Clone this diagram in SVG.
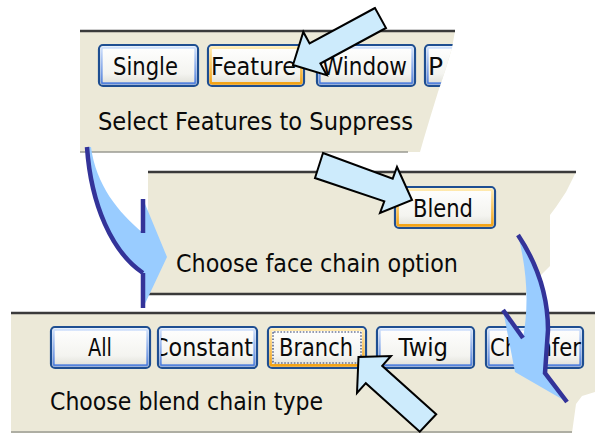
<svg xmlns="http://www.w3.org/2000/svg" width="595" height="433" viewBox="0 0 595 433">
  <defs>
    <style>
      .panel { fill: #ECE9D8; }
      .edge-dark { stroke: #3A3A3A; stroke-width: 2.5; fill: none; }
      .edge-light { stroke: #9A9A92; stroke-width: 1.5; fill: none; }
      .btn-outer { fill: url(#face); stroke: #1E4E91; stroke-width: 2.2; }
      .bevel-blue { fill: none; stroke: url(#bevelBlue); stroke-width: 2.2; }
      .bevel-orange { fill: none; stroke: url(#bevelOrange); stroke-width: 2.6; }
      .focus { fill: none; stroke: #2A3A6A; stroke-width: 1.2; stroke-dasharray: 1.6 1.6; }
      .label { font-family: "DejaVu Sans", "Noto Sans", sans-serif; font-size: 25px; fill: #0A0A0A; }
      .callout { fill: #CDEBFC; stroke: #000000; stroke-width: 2; stroke-linejoin: miter; }
      .bend-fill { fill: #99CCFF; stroke: none; }
      .bend-edge { fill: none; stroke: #333399; stroke-width: 4.5; stroke-linecap: butt; }
    </style>
    <linearGradient id="face" x1="0" y1="0" x2="0" y2="1">
      <stop offset="0" stop-color="#FFFFFF"/>
      <stop offset="0.7" stop-color="#F4F4F0"/>
      <stop offset="1" stop-color="#DCDCD4"/>
    </linearGradient>
    <linearGradient id="bevelBlue" x1="0" y1="0" x2="0" y2="1">
      <stop offset="0" stop-color="#CFE0FB"/>
      <stop offset="1" stop-color="#5583DD"/>
    </linearGradient>
    <linearGradient id="bevelOrange" x1="0" y1="0" x2="0" y2="1">
      <stop offset="0" stop-color="#FFEAB0"/>
      <stop offset="1" stop-color="#F2A317"/>
    </linearGradient>
    <clipPath id="clipPanel1">
      <path d="M80,31 L455,31 L452,48 L446,68 L438,92 L430,118 L424,138 L420,152 L80,152 Z"/>
    </clipPath>
    <clipPath id="clipConstant">
      <rect x="161" y="330" width="93" height="35"/>
    </clipPath>
  </defs>

  <rect width="595" height="433" fill="#FFFFFF"/>

  <!-- selection toolbar -->
  <g id="panel-select">
    <path class="panel" d="M80,31 L455,31 L452,48 L446,68 L438,92 L430,118 L424,138 L420,152 L80,152 Z"/>
    <g clip-path="url(#clipPanel1)">
      <g id="btn-single">
        <rect class="btn-outer" x="99" y="45" width="99" height="41" rx="4"/>
        <rect class="bevel-blue" x="101.6" y="47.6" width="93.8" height="35.8" rx="2"/>
        <text class="label" x="113" y="74.5" textLength="65" lengthAdjust="spacingAndGlyphs">Single</text>
      </g>
      <g id="btn-feature">
        <rect class="btn-outer" x="208" y="45" width="96" height="41" rx="4"/>
        <rect class="bevel-orange" x="210.6" y="47.6" width="90.8" height="35.8" rx="2"/>
        <text class="label" x="211" y="74.5" textLength="85" lengthAdjust="spacingAndGlyphs">Feature</text>
      </g>
      <g id="btn-window">
        <rect class="btn-outer" x="317" y="45" width="98" height="41" rx="4"/>
        <rect class="bevel-blue" x="319.6" y="47.6" width="92.8" height="35.8" rx="2"/>
        <text class="label" x="322" y="74.5" textLength="85" lengthAdjust="spacingAndGlyphs">Window</text>
      </g>
      <g id="btn-p">
        <rect class="btn-outer" x="425" y="45" width="60" height="41" rx="4"/>
        <rect class="bevel-blue" x="427.6" y="47.6" width="54.8" height="35.8" rx="2"/>
        <text class="label" x="428" y="74.5">P</text>
      </g>
    </g>
    <text class="label" x="98" y="130" textLength="315" lengthAdjust="spacingAndGlyphs">Select Features to Suppress</text>
    <path class="edge-dark" d="M80,31 H455"/>
    <path class="edge-light" d="M80,152 H408"/>
  </g>

  <!-- face chain prompt -->
  <g id="panel-face-chain">
    <path class="panel" d="M148,172 L576,172 L566,192 L556,207 L550,215 L550,266 L540,276 L527,294 L148,294 Z"/>
    <g id="btn-blend">
      <rect class="btn-outer" x="395" y="187" width="100" height="41" rx="4"/>
      <rect class="bevel-orange" x="397.6" y="189.6" width="94.8" height="35.8" rx="2"/>
      <text class="label" x="413" y="217" textLength="60" lengthAdjust="spacingAndGlyphs">Blend</text>
    </g>
    <text class="label" x="176" y="272" textLength="282" lengthAdjust="spacingAndGlyphs">Choose face chain option</text>
    <path class="edge-dark" d="M148,172 H576"/>
    <path class="edge-dark" d="M148,294 H526"/>
  </g>

  <!-- blend chain type toolbar -->
  <g id="panel-blend-chain">
    <path class="panel" d="M11,313 L595,313 L595,392 L582,396 L576,404 L572,433 L11,433 Z"/>
    <g id="btn-all">
      <rect class="btn-outer" x="51" y="327" width="99" height="41" rx="4"/>
      <rect class="bevel-blue" x="53.6" y="329.6" width="93.8" height="35.8" rx="2"/>
      <text class="label" x="88" y="356" textLength="24" lengthAdjust="spacingAndGlyphs">All</text>
    </g>
    <g id="btn-constant">
      <rect class="btn-outer" x="158" y="327" width="99" height="41" rx="4"/>
      <rect class="bevel-blue" x="160.6" y="329.6" width="93.8" height="35.8" rx="2"/>
      <text class="label" x="153" y="356" textLength="100" lengthAdjust="spacingAndGlyphs" clip-path="url(#clipConstant)">Constant</text>
    </g>
    <g id="btn-branch">
      <rect class="btn-outer" x="268" y="327" width="98" height="41" rx="4"/>
      <rect class="bevel-orange" x="270.6" y="329.6" width="92.8" height="35.8" rx="2"/>
      <rect class="focus" x="273" y="332" width="88" height="31" rx="1"/>
      <text class="label" x="279" y="356" textLength="74" lengthAdjust="spacingAndGlyphs">Branch</text>
    </g>
    <g id="btn-twig">
      <rect class="btn-outer" x="377" y="327" width="97" height="41" rx="4"/>
      <rect class="bevel-blue" x="379.6" y="329.6" width="91.8" height="35.8" rx="2"/>
      <text class="label" x="398.5" y="356" textLength="49.5" lengthAdjust="spacingAndGlyphs">Twig</text>
    </g>
    <g id="btn-chamfer">
      <rect class="btn-outer" x="486" y="327" width="97" height="41" rx="4"/>
      <rect class="bevel-blue" x="488.6" y="329.6" width="91.8" height="35.8" rx="2"/>
      <text class="label" x="490" y="356" textLength="91" lengthAdjust="spacingAndGlyphs">Chamfer</text>
    </g>
    <text class="label" x="50" y="410" textLength="273" lengthAdjust="spacingAndGlyphs">Choose blend chain type</text>
    <path class="edge-dark" d="M11,313 H595"/>
    <path class="edge-light" d="M11,432 H572"/>
  </g>

  <!-- pointers and step arrows -->
  <g id="connectors">
    <!-- pointer onto Feature -->
    <path class="callout" d="M375,8 L309.6,43.5 L303.3,31.9 L293,65 L326.7,75.1 L320.4,63.5 L386,28 Z"/>
    <!-- pointer onto Blend -->
    <path class="callout" d="M323,153 L392.7,178.7 L397,167 L412,200 L380,213 L384.3,201.3 L315,178 Z"/>
    <!-- pointer onto Branch -->
    <path class="callout" d="M436.2,414.3 L382.2,365.8 L391,356 L358.5,357 L357,393 L365.8,383.2 L419.8,431.7 Z"/>

    <!-- bent arrow, left: step 1 to step 2 -->
    <path class="bend-fill" d="M87,147 C91,205 112,252 143,273 L143,308 L167,257 L143,199 L143,233 C118,212 96,185 91,147 Z"/>
    <path class="bend-edge" d="M87,147 C91,205 112,252 143,273"/>
    <path class="bend-edge" d="M143,199 V233 M143,273 V308"/>

    <!-- bent arrow, right: step 2 to step 3 -->
    <path class="bend-fill" d="M518,235 C536,262 548,295 548,330 L545,373 L567,402 L515,372 L503,310 L523,338 Q532,290 518,235 Z"/>
    <path class="bend-edge" d="M518,235 C536,262 548,295 548,330 L545,373 L567,402"/>
    <path class="bend-edge" d="M503,310 L523,338"/>
  </g>
</svg>
